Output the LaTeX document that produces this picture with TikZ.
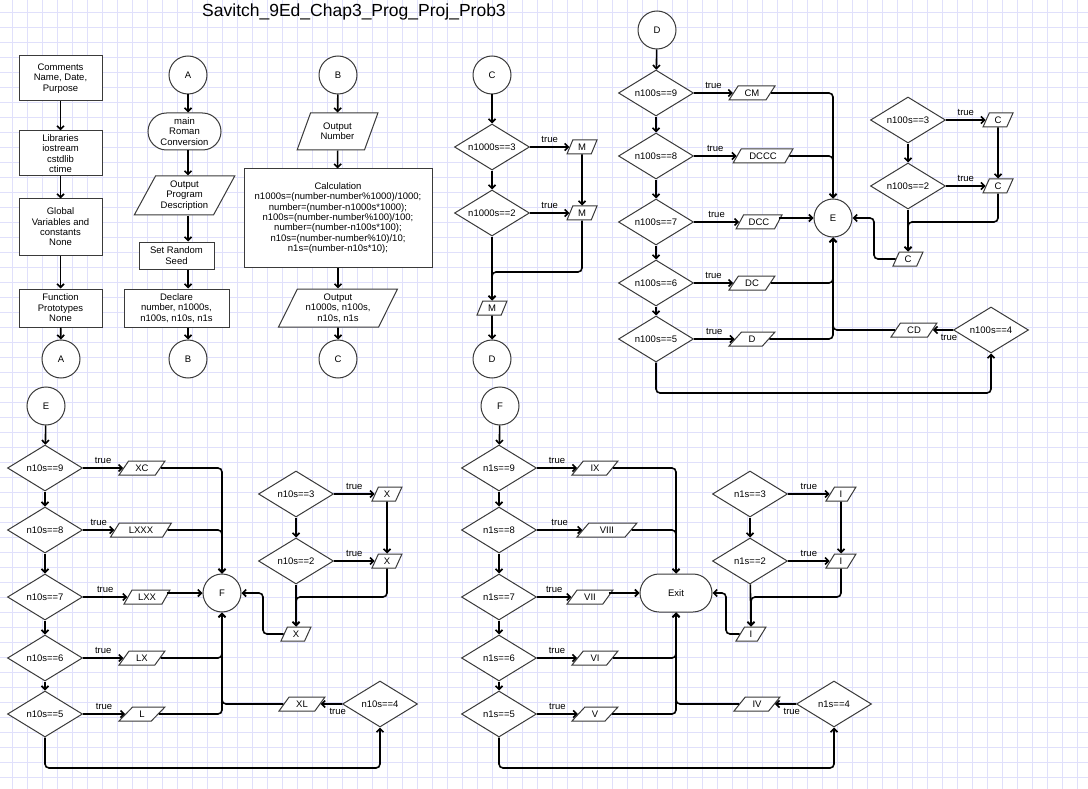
\documentclass[tikz,border=0pt]{standalone}
\usepackage{fontspec}
\setmainfont{Liberation Sans}
\usepackage{tikz}
\usetikzlibrary{positioning,calc,arrows.meta,shapes.geometric,shapes.misc,quotes}

\definecolor{gridline}{RGB}{224,224,251}
\definecolor{shapeline}{RGB}{58,58,58}
\newcommand{\flowfont}{\fontsize{9.5}{10.4}\selectfont}

\begin{document}
\begin{tikzpicture}[x=1pt, y=-1pt, >={Straight Barb[length=3.5pt,width=7pt]}, font=\flowfont,
  flow/.style={->, line width=1.6pt, rounded corners=4pt},
  every edge/.append style={flow},
  every edge quotes/.append style={inner sep=3.5pt},
  box/.style={rectangle, draw=shapeline, fill=white, line width=1pt, align=center, inner sep=1pt},
  conn/.style={circle, draw=shapeline, fill=white, line width=1pt, minimum size=38pt, inner sep=0pt},
  term/.style={rounded rectangle, draw=shapeline, fill=white, line width=1pt, align=center, inner sep=1pt},
  test/.style={diamond, aspect=1.6, draw=shapeline, fill=white, line width=1pt, minimum width=75pt, minimum height=46pt, inner sep=0pt},
  io/.style={trapezium, trapezium left angle=62, trapezium right angle=118, trapezium stretches=true, draw=shapeline, fill=white, line width=1pt, align=center, inner sep=1pt},
  roman/.style={io, trapezium left angle=58, trapezium right angle=122, minimum width=46pt, minimum height=14pt},
  tally/.style={io, trapezium left angle=70, trapezium right angle=110, minimum width=30pt, minimum height=14pt}]

% page and grid paper
\fill[white] (0,0) rectangle (1088,789);
\useasboundingbox (0,0) rectangle (1088,789);
\foreach \gx in {0,...,71} \draw[gridline, line width=0.7pt] (12+15*\gx,0) -- (12+15*\gx,789);
\foreach \gy in {0,...,51} \draw[gridline, line width=0.7pt] (0,12+15*\gy) -- (1088,12+15*\gy);

\node[font=\fontsize{17.5}{20}\selectfont] (title) at (354,12) {Savitch\_9Ed\_Chap3\_Prog\_Proj\_Prob3};

% header
\node[box, minimum width=83pt, minimum height=45pt] (comments) at (60.5,78.5) {Comments\\Name, Date,\\Purpose};
\node[box, minimum width=83pt, minimum height=45pt] (libs) at (60.5,153.5) {Libraries\\iostream\\cstdlib\\ctime};
\node[box, minimum width=83pt, minimum height=56pt] (globals) at (60.5,227) {Global\\Variables and\\constants\\None};
\node[box, minimum width=83pt, minimum height=38pt] (protos) at (60.5,308) {Function\\Prototypes\\None};
\node[conn] (toA) at (61,359) {A};

\path
 (comments) edge (libs)
 (libs) edge (globals)
 (globals) edge (protos)
 (protos) edge (toA);

% main
\node[conn] (fromA) at (188,75) {A};
\node[term, minimum width=75pt, minimum height=37pt] (start) at (184.5,131.5) {main\\Roman\\Conversion};
\node[io, trapezium left angle=60, trapezium right angle=120, minimum width=101pt, minimum height=39pt] (describe) at (184.5,195.5) {Output\\Program\\Description};
\node[box, minimum width=75pt, minimum height=27pt] (seed) at (176.5,255.5) {Set Random\\Seed};
\node[box, minimum width=105pt, minimum height=38pt] (declare) at (176.5,308) {Declare\\number, n1000s,\\n100s, n10s, n1s};
\node[conn] (toB) at (188,359) {B};

\draw[flow] (fromA) -- (fromA |- start.north);
\draw[flow] (fromA |- start.south) -- (fromA |- describe.north);
\draw[flow] (fromA |- describe.south) -- (fromA |- seed.north);
\draw[flow] (fromA |- seed.south) -- (fromA |- declare.north);
\draw[flow] (fromA |- declare.south) -- (toB);

% calculation
\node[conn] (fromB) at (338,75) {B};
\node[io, trapezium left angle=65, trapezium right angle=115, minimum width=81pt, minimum height=37pt] (shownum) at (337.5,131.5) {Output\\Number};
\node[box, minimum width=188pt, minimum height=98pt] (calc) at (338,218) {Calculation\\n1000s=(number-number\%1000)/1000;\\number=(number-n1000s*1000);\\n100s=(number-number\%100)/100;\\number=(number-n100s*100);\\n10s=(number-number\%10)/10;\\n1s=(number-n10s*10);};
\node[io, trapezium left angle=63, trapezium right angle=117, minimum width=120pt, minimum height=38pt] (showdigits) at (338,308) {Output\\n1000s, n100s,\\n10s, n1s};
\node[conn] (toC) at (338,359) {C};

\path
 (fromB) edge (shownum)
 (shownum) edge (calc)
 (calc) edge (showdigits)
 (showdigits) edge (toC);

% thousands
\node[conn] (fromC) at (492,75) {C};
\node[test] (k3) at (492,147) {n1000s==3};
\node[test] (k2) at (492,213) {n1000s==2};
\node[tally] (m3) at (582,147) {M};
\node[tally] (m2) at (582,213) {M};
\node[tally] (m1) at (492,308) {M};
\node[conn] (toD) at (492,359) {D};

\path
 (fromC) edge (k3)
 (k3) edge["true"] (m3)
 (k3) edge (k2)
 (k2) edge["true"] (m2)
 (m3) edge (m2)
 (k2) edge (m1)
 (m1) edge (toD);
\draw[flow] (m2) -- ++(0,59) -| (m1);

% hundreds
\begin{scope}[shift={(656,93)}]
\node[conn] (fromD) at (1,-63) {D};
\node[test] (h9) at (0,0) {n100s==9};
\node[test] (h8) at (0,63) {n100s==8};
\node[test] (h7) at (0,129) {n100s==7};
\node[test] (h6) at (0,190) {n100s==6};
\node[test] (h5) at (0,246) {n100s==5};
\node[test] (h3) at (252,27) {n100s==3};
\node[test] (h2) at (252,93) {n100s==2};
\node[test] (h4) at (335,237) {n100s==4};
\node[roman] (cm) at (96,0) {CM};
\node[roman, minimum width=60pt] (dccc) at (107,63) {DCCC};
\node[roman] (dcc) at (103,129) {DCC};
\node[roman] (dc) at (96,190) {DC};
\node[roman] (dd) at (96,246) {D};
\node[roman] (cd) at (258,237) {CD};
\node[tally] (c3) at (342,27) {C};
\node[tally] (c2) at (342,93) {C};
\node[tally] (c1) at (252,166) {C};
\node[conn] (toE) at (177,125) {E};

\path
 (fromD) edge (h9)
 (h9) edge (h8)
 (h8) edge (h7)
 (h7) edge (h6)
 (h6) edge (h5)
 (h9) edge["true"] (cm)
 (h8) edge["true"] (dccc)
 (h7) edge["true"] (dcc)
 (h6) edge["true"] (dc)
 (h5) edge["true"] (dd)
 (h3) edge["true"] (c3)
 (h3) edge (h2)
 (h2) edge["true"] (c2)
 (c3) edge (c2)
 (h2) edge (c1)
 (h4) edge["true", pos=0.2] (cd);
\draw[flow] (cm) -| (toE);
\draw[flow] (dccc) -| (toE);
\draw[flow] (dcc.east |- toE) -- (toE);
\draw[flow] (dc) -| (toE);
\draw[flow] (dd) -| (toE);
\draw[flow] (cd) -| (toE);
\draw[flow] (c2) -- ++(0,36) -| (c1);
\draw[flow] (c1) -- ++(-34,0) |- (toE);
\draw[flow] (h5) -- ++(0,54) -| (h4);
\end{scope}

% tens
\begin{scope}[shift={(45,468)}]
\node[conn] (fromE) at (1,-62) {E};
\node[test] (t9) at (0,0) {n10s==9};
\node[test] (t8) at (0,62) {n10s==8};
\node[test] (t7) at (0,129) {n10s==7};
\node[test] (t6) at (0,190) {n10s==6};
\node[test] (t5) at (0,246) {n10s==5};
\node[test] (t3) at (251,26) {n10s==3};
\node[test] (t2) at (251,93) {n10s==2};
\node[test] (t4) at (335,236) {n10s==4};
\node[roman] (xc) at (97,0) {XC};
\node[roman, minimum width=61pt] (lxxx) at (96,62) {LXXX};
\node[roman] (lxx) at (102,129) {LXX};
\node[roman] (lx) at (97,190) {LX};
\node[roman] (ll) at (97,246) {L};
\node[roman] (xl) at (257,236) {XL};
\node[tally] (x3) at (342,26) {X};
\node[tally] (x2) at (342,93) {X};
\node[tally] (x1) at (251,166) {X};
\node[conn] (toF) at (177,125) {F};

\path
 (fromE) edge (t9)
 (t9) edge (t8)
 (t8) edge (t7)
 (t7) edge (t6)
 (t6) edge (t5)
 (t9) edge["true"] (xc)
 (t8) edge["true"] (lxxx)
 (t7) edge["true"] (lxx)
 (t6) edge["true"] (lx)
 (t5) edge["true"] (ll)
 (t3) edge["true"] (x3)
 (t3) edge (t2)
 (t2) edge["true"] (x2)
 (x3) edge (x2)
 (t2) edge (x1)
 (t4) edge["true", pos=0.2] (xl);
\draw[flow] (xc) -| (toF);
\draw[flow] (lxxx) -| (toF);
\draw[flow] (lxx.east |- toF) -- (toF);
\draw[flow] (lx) -| (toF);
\draw[flow] (ll) -| (toF);
\draw[flow] (xl) -| (toF);
\draw[flow] (x2) -- ++(0,36) -| (x1);
\draw[flow] (x1) -- ++(-33,0) |- (toF);
\draw[flow] (t5) -- ++(0,54) -| (t4);
\end{scope}

% ones
\begin{scope}[shift={(499,468)}]
\node[conn] (fromF) at (1,-62) {F};
\node[test] (o9) at (0,0) {n1s==9};
\node[test] (o8) at (0,62) {n1s==8};
\node[test] (o7) at (0,129) {n1s==7};
\node[test] (o6) at (0,190) {n1s==6};
\node[test] (o5) at (0,246) {n1s==5};
\node[test] (o3) at (251,26) {n1s==3};
\node[test] (o2) at (251,93) {n1s==2};
\node[test] (o4) at (335,236) {n1s==4};
\node[roman] (ix) at (96,0) {IX};
\node[roman, minimum width=60pt] (viii) at (108,62) {VIII};
\node[roman] (vii) at (91,129) {VII};
\node[roman] (vi) at (96,190) {VI};
\node[roman] (vv) at (96,246) {V};
\node[roman] (iv) at (258,236) {IV};
\node[tally] (i3) at (342,26) {I};
\node[tally] (i2) at (342,93) {I};
\node[tally] (i1) at (252,166) {I};
\node[term, minimum width=74pt, minimum height=38pt] (exit) at (177,125) {Exit};

\path
 (fromF) edge (o9)
 (o9) edge (o8)
 (o8) edge (o7)
 (o7) edge (o6)
 (o6) edge (o5)
 (o9) edge["true"] (ix)
 (o8) edge["true"] (viii)
 (o7) edge["true"] (vii)
 (o6) edge["true"] (vi)
 (o5) edge["true"] (vv)
 (o3) edge["true"] (i3)
 (o3) edge (o2)
 (o2) edge["true"] (i2)
 (i3) edge (i2)
 (o2) edge (i1)
 (o4) edge["true", pos=0.2] (iv);
\draw[flow] (ix) -| (exit);
\draw[flow] (viii) -| (exit);
\draw[flow] (vii.east |- exit) -- (exit);
\draw[flow] (vi) -| (exit);
\draw[flow] (vv) -| (exit);
\draw[flow] (iv) -| (exit);
\draw[flow] (i2) -- ++(0,36) -| (i1);
\draw[flow] (i1) -- ++(-25,0) |- (exit);
\draw[flow] (o5) -- ++(0,54) -| (o4);
\end{scope}
\end{tikzpicture}
\end{document}
